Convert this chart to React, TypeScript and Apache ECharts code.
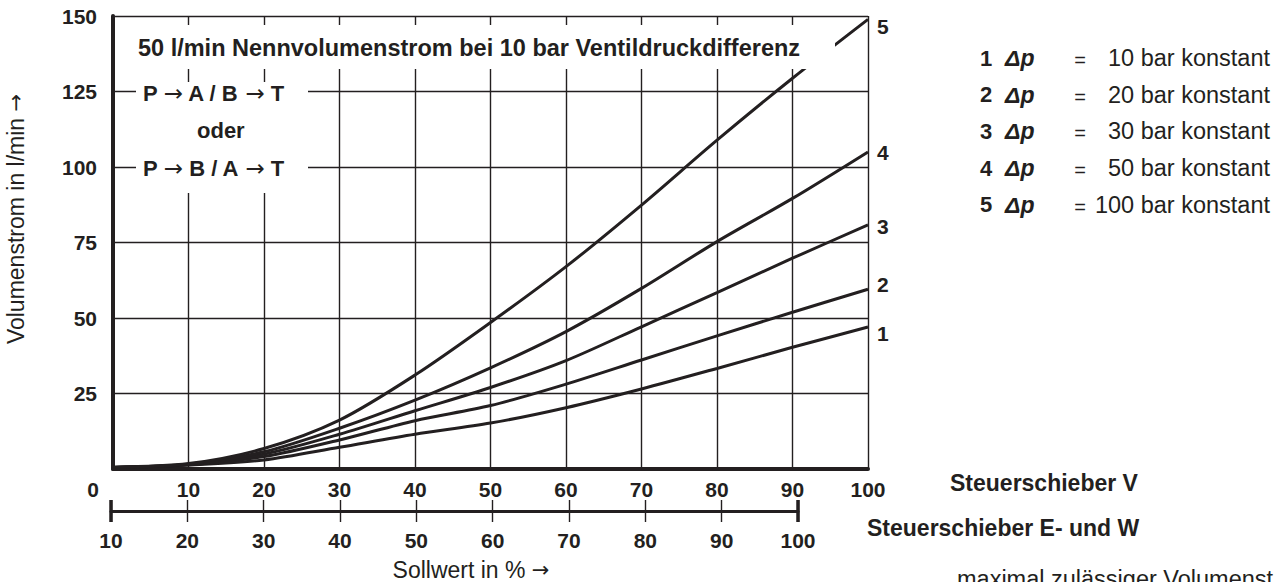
import React, { useEffect, useRef } from "react";
import * as echarts from "echarts";

// ---- data ----
const sollwertV = [0, 10, 20, 30, 40, 50, 60, 70, 80, 90, 100];
const flow1 = [0.5, 1.3, 3.0, 7.2, 11.5, 15.2, 20.3, 26.5, 33.3, 40.3, 47.0];
const flow2 = [0.5, 1.4, 4.1, 9.6, 16.0, 21.0, 28.1, 36.1, 44.1, 51.9, 59.5];
const flow3 = [0.5, 1.5, 4.9, 11.5, 19.3, 27.0, 35.9, 47.1, 58.4, 69.8, 80.8];
const flow4 = [0.5, 1.6, 5.7, 13.5, 22.8, 33.5, 45.5, 59.8, 75.3, 89.6, 105.0];
const flow5 = [0.6, 1.8, 6.8, 16.2, 31.1, 48.5, 67.0, 87.4, 108.9, 129.4, 148.9];
const curveIds = ["1", "2", "3", "4", "5"];
const pressures = [10, 20, 30, 50, 100];
const secondaryScale = [10, 100];

const INK = "#231f20";
const SANS = "'Liberation Sans', Arial, sans-serif";
const ARROW = { fontFamily: "'DejaVu Sans', sans-serif", fontWeight: "normal" as const, fontSize: 23, fill: INK, color: INK };

export default function App() {
  const ref = useRef<HTMLDivElement>(null);
  useEffect(() => {
    if (!ref.current) return;
    const chart = echarts.init(ref.current, undefined, { renderer: "svg" });
    const flows = [flow1, flow2, flow3, flow4, flow5];
    const labelDy = [6, -5, 2, 1, 7];

    const curveSeries = flows.map((f, i) => ({
      type: "line",
      name: curveIds[i],
      xAxisIndex: 0,
      yAxisIndex: 0,
      smooth: 0.3,
      showSymbol: false,
      symbol: "none",
      lineStyle: { color: INK, width: 3 },
      data: sollwertV.map((x, k) => [x, f[k]]),
      endLabel: {
        show: true,
        formatter: "{a}",
        distance: 9,
        offset: [0, labelDy[i]],
        color: INK,
        fontFamily: SANS,
        fontWeight: "bold",
        fontSize: 21,
      },
      z: 3,
    }));

    const capSeries = secondaryScale.map((v) => ({
      type: "line",
      xAxisIndex: 1,
      yAxisIndex: 1,
      symbol: "none",
      lineStyle: { color: INK, width: 3.5 },
      data: [
        [v, -1],
        [v, 1],
      ],
    }));

    const legendRows: any[] = [];
    curveIds.forEach((id, i) => {
      const y = 58 + i * 36.7;
      legendRows.push(
        { type: "text", x: 980, y, z: 100, style: { text: id, fontFamily: SANS, fontWeight: "bold", fontSize: 22, fill: INK, verticalAlign: "middle" } },
        { type: "text", x: 1005, y, z: 100, style: { text: "Δp", fontFamily: SANS, fontWeight: "bold", fontStyle: "italic", fontSize: 23, fill: INK, verticalAlign: "middle" } },
        { type: "text", x: 1080, y: y + 2, z: 100, style: { text: "=", fontFamily: SANS, fontSize: 20, fill: INK, align: "center", verticalAlign: "middle" } },
        { type: "text", x: 1270, y, z: 100, style: { text: `${pressures[i]} bar konstant`, fontFamily: SANS, fontSize: 23.5, fill: INK, align: "right", verticalAlign: "middle" } }
      );
    });

    const boldText = (text: string, x: number, y: number, size = 22) => ({
      type: "text",
      x,
      y,
      z: 101,
      style: {
        text,
        fontFamily: SANS,
        fontWeight: "bold",
        fontSize: size,
        fill: INK,
        verticalAlign: "middle",
        rich: { ar: ARROW },
      },
    });

    const tickFont = { color: INK, fontFamily: SANS, fontWeight: "bold", fontSize: 21 };

    const option: any = {
      animation: false,
      backgroundColor: "#ffffff",
      grid: [
        { left: 113, right: 410, top: 16, bottom: 113, containLabel: false },
        { left: 111, width: 687, top: 500, height: 22, containLabel: false },
      ],
      xAxis: [
        {
          type: "value",
          gridIndex: 0,
          min: 0,
          max: 100,
          interval: 10,
          axisLine: { show: true, onZero: false, lineStyle: { color: INK, width: 4 } },
          axisTick: { show: false },
          splitLine: { show: true, lineStyle: { color: INK, width: 1.4 } },
          axisLabel: {
            margin: 10,
            ...tickFont,
            formatter: (v: number) => (v === 0 ? "{z|0}" : String(v)),
            rich: {
              z: { ...tickFont, padding: [0, 40, 0, 0] },
            },
          },
        },
        {
          type: "value",
          gridIndex: 1,
          min: 10,
          max: 100,
          interval: 10,
          axisLine: { show: true, onZero: true, lineStyle: { color: INK, width: 3 } },
          axisTick: { show: false },
          splitLine: { show: true, lineStyle: { color: INK, width: 1.4 } },
          axisLabel: { margin: 8, ...tickFont },
        },
      ],
      yAxis: [
        {
          type: "value",
          gridIndex: 0,
          min: 0,
          max: 150,
          interval: 25,
          axisLine: { show: true, onZero: false, lineStyle: { color: INK, width: 4 } },
          axisTick: { show: false },
          splitLine: { show: true, lineStyle: { color: INK, width: 1.4 } },
          axisLabel: { showMinLabel: false, margin: 16, ...tickFont },
        },
        { type: "value", gridIndex: 1, min: -1, max: 1, show: false },
      ],
      series: [...curveSeries, ...capSeries],
      graphic: [
        { type: "rect", z: 99, shape: { x: 126, y: 25, width: 709, height: 44 }, style: { fill: "#ffffff" } },
        { type: "rect", z: 99, shape: { x: 136, y: 82, width: 172, height: 111 }, style: { fill: "#ffffff" } },
        boldText("50 l/min Nennvolumenstrom bei 10 bar Ventildruckdifferenz", 138, 48, 23.5),
        boldText("P {ar|→} A / B {ar|→} T", 143, 93),
        boldText("oder", 197, 130),
        boldText("P {ar|→} B / A {ar|→} T", 143, 168),
        {
          type: "text",
          x: 16,
          y: 219,
          rotation: Math.PI / 2,
          z: 100,
          style: {
            text: "Volumenstrom in l/min {ar|→}",
            fontFamily: SANS,
            fontSize: 23,
            fill: INK,
            align: "center",
            verticalAlign: "middle",
            rich: { ar: { ...ARROW, fontSize: 21 } },
          },
        },
        {
          type: "text",
          x: 471,
          y: 570,
          z: 100,
          style: {
            text: "Sollwert in % {ar|→}",
            fontFamily: SANS,
            fontSize: 23,
            fill: INK,
            align: "center",
            verticalAlign: "middle",
            rich: { ar: { ...ARROW, fontSize: 21 } },
          },
        },
        boldText("Steuerschieber V", 950, 483, 23),
        boldText("Steuerschieber E- und W", 867, 528, 23),
        {
          type: "text",
          x: 957,
          y: 567,
          z: 100,
          style: { text: "maximal zulässiger Volumenst", fontFamily: SANS, fontSize: 23.5, fill: INK, verticalAlign: "top" },
        },
        ...legendRows,
      ],
    };
    chart.setOption(option);
    return () => chart.dispose();
  }, []);
  return (
    <div
      ref={ref}
      style={{ position: "fixed", left: 0, top: 0, width: 1278, height: 582, background: "#fff" }}
    />
  );
}
